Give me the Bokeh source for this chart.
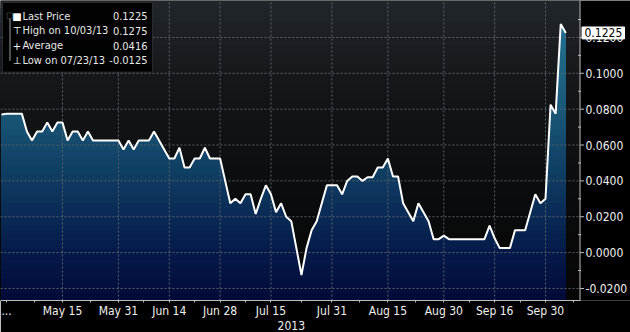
import numpy as np
import pandas as pd
from bokeh.plotting import figure
from bokeh.models import Range1d, FixedTicker, Label, BoxAnnotation, LinearAxis
from bokeh.core.properties import value
from bokeh.embed import file_html
from bokeh.resources import INLINE

# ---------------- data ----------------
holidays = ["2013-05-27", "2013-07-04", "2013-09-02"]
dates = [d for d in pd.bdate_range("2013-04-29", "2013-10-04") if d.strftime("%Y-%m-%d") not in holidays]

values = [
    0.0770, 0.0775, 0.0775, 0.0775, 0.0775, 0.0675, 0.0625, 0.0675, 0.0675, 0.0725,
    0.0675, 0.0725, 0.0725, 0.0625, 0.0675, 0.0675, 0.0625, 0.0675, 0.0625, 0.0625,
    0.0625, 0.0625, 0.0625, 0.0625, 0.0575, 0.0625, 0.0575, 0.0625, 0.0625, 0.0625,
    0.0675, 0.0625, 0.0575, 0.0525, 0.0525, 0.0585, 0.0475, 0.0475, 0.0525, 0.0525,
    0.0585, 0.0525, 0.0525, 0.0525, 0.0400, 0.0275, 0.0300, 0.0275, 0.0325, 0.0325,
    0.0215, 0.0300, 0.0375, 0.0325, 0.0225, 0.0275, 0.0200, 0.0175, 0.0025, -0.0125,
    0.0025, 0.0125, 0.0175, 0.0275, 0.0375, 0.0375, 0.0375, 0.0325, 0.0400, 0.0425,
    0.0425, 0.0400, 0.0420, 0.0420, 0.0475, 0.0475, 0.0525, 0.0425, 0.0425, 0.0275,
    0.0225, 0.0175, 0.0275, 0.0225, 0.0175, 0.0075, 0.0075, 0.0095, 0.0075, 0.0075,
    0.0075, 0.0075, 0.0075, 0.0075, 0.0075, 0.0075, 0.0150, 0.0080, 0.0025, 0.0025,
    0.0025, 0.0125, 0.0125, 0.0125, 0.0225, 0.0325, 0.0275, 0.0300, 0.0825, 0.0775,
    0.1275, 0.1225,
]
assert len(values) == len(dates)

tick_dates = ["2013-05-15", "2013-05-31", "2013-06-14", "2013-06-28", "2013-07-15",
              "2013-07-31", "2013-08-15", "2013-08-30", "2013-09-16", "2013-09-30"]
tick_labels = ["May 15", "May 31", "Jun 14", "Jun 28", "Jul 15",
               "Jul 31", "Aug 15", "Aug 30", "Sep 16", "Sep 30"]
y_ticks = [-0.02, 0.0, 0.02, 0.04, 0.06, 0.08, 0.10, 0.12]
year_label = "2013"
year_pos = 57          # business-day index under which the year is written

# ---------------- layout ----------------
W, H = 630, 332
FH = 302            # frame height
PW = 579            # pixel x of the price-axis line (plot area right edge)
FONT = "DejaVu Sans Condensed"
AX_COL = "#bdbdbd"
TXT_COL = "#f0f0f0"
GRID_COL = "#5d636a"

idx = np.arange(len(values))
vals = np.array(values)
date_str = [d.strftime("%Y-%m-%d") for d in dates]
tick_idx = [date_str.index(t) for t in tick_dates]

px_per = 5.084
x0 = -1.0 / px_per
x1 = x0 + W / px_per
y1 = 0.1406
y0 = y1 - FH / 1805.0

def X(px):
    return x0 + px * (x1 - x0) / W

def Y(py):
    return y1 - py * (y1 - y0) / FH

p = figure(width=W, height=H, output_backend="svg", toolbar_location=None,
           x_range=Range1d(x0, x1), y_range=Range1d(y0, y1),
           y_axis_location=None,
           min_border_left=0, min_border_top=0, min_border_right=0,
           min_border_bottom=H - FH,
           background_fill_color="#000000", border_fill_color="#000000",
           outline_line_color=None)
p.grid.visible = False

def hex2rgb(h):
    h = h.lstrip("#")
    return np.array([int(h[i:i + 2], 16) for i in (0, 2, 4)], dtype=float)

def grad(stops, v):
    ys = [s[0] for s in stops]
    cs = [hex2rgb(s[1]) for s in stops]
    v = min(max(v, ys[0]), ys[-1])
    for k in range(len(ys) - 1):
        if ys[k] <= v <= ys[k + 1]:
            t = (v - ys[k]) / (ys[k + 1] - ys[k]) if ys[k + 1] > ys[k] else 0
            c = cs[k] + t * (cs[k + 1] - cs[k])
            return "#%02x%02x%02x" % tuple(int(round(a)) for a in c)
    return stops[-1][1]

bg_stops = [(y0, "#060606"), (0.03, "#0a0b0c"), (0.09, "#131618"), (y1, "#21262b")]
fill_stops = [(y0, "#020a38"), (0.0, "#051a49"), (0.04, "#0e3a60"), (0.08, "#1a5877"), (y1, "#247798")]

NB = 40
edges = np.linspace(y0, y1, NB + 1)
xr = X(PW)

# plot-area background gradient
for k in range(NB - 1, -1, -1):
    hi = edges[k + 1]
    col = grad(bg_stops, (edges[k] + hi) / 2)
    p.quad(left=x0 - 1, right=xr, bottom=y0 - 0.01, top=hi,
           fill_color=col, line_color=None)

# area under the price line
for k in range(NB - 1, -1, -1):
    hi = edges[k + 1]
    col = grad(fill_stops, (edges[k] + hi) / 2)
    p.varea(x=idx, y1=y0 - 0.01, y2=np.minimum(vals, hi), fill_color=col)

# dotted grid
p.segment(x0=[x0] * len(y_ticks), y0=y_ticks, x1=[xr] * len(y_ticks), y1=y_ticks,
          line_color=GRID_COL, line_dash="2 2", line_width=1)
p.segment(x0=tick_idx, y0=[y0] * len(tick_idx), x1=tick_idx, y1=[y1] * len(tick_idx),
          line_color=GRID_COL, line_dash="2 2", line_width=1)

p.line(idx, vals, line_color="white", line_width=2)

# ---- price axis on the right (drawn with glyphs so the price tag can sit on it)
xa = X(PW + 0.5)
p.segment(x0=[xa], y0=[y0], x1=[xa], y1=[y1], line_color=AX_COL, line_width=1)
p.segment(x0=[xa] * len(y_ticks), y0=y_ticks, x1=[X(PW + 4.5)] * len(y_ticks), y1=y_ticks,
          line_color=AX_COL, line_width=1)
ym = [t + 0.01 for t in y_ticks]
p.segment(x0=[X(PW - 1.5)] * len(ym), y0=ym, x1=[X(PW + 1.5)] * len(ym), y1=ym,
          line_color=AX_COL, line_width=1)
p.text(x=[X(PW + 6)] * len(y_ticks), y=y_ticks, text=["%.4f" % t for t in y_ticks],
       text_align="left", text_baseline="middle", text_color=TXT_COL,
       text_font=value(FONT), text_font_size="12px")

last = vals[-1]
hh = 6.0 * (y1 - y0) / FH
p.quad(left=[X(PW + 2.5)], right=[X(624)], bottom=[last - hh], top=[last + hh],
       fill_color="#ffffff", line_color="#ffffff")
p.text(x=[X(PW + 5)], y=[last], text=["%.4f" % last], text_align="left",
       text_baseline="middle", text_color="#000000", text_font=value(FONT),
       text_font_size="12px")

# ---- date axis
xminor = [(a + b) / 2 for a, b in zip([1] + tick_idx[:-1], tick_idx)] + [tick_idx[-1] + 5.5]
p.xaxis.ticker = FixedTicker(ticks=[1] + tick_idx, minor_ticks=xminor)
ov = {1: "..."}
for i, l in zip(tick_idx, tick_labels):
    ov[i] = l
p.xaxis.major_label_overrides = ov
p.xaxis.bounds = (x0, X(PW + 0.5))
p.xaxis.major_label_standoff = 1
p.xaxis.major_tick_in = 0
p.xaxis.major_tick_out = 2
p.xaxis.minor_tick_in = 0
p.xaxis.minor_tick_out = 2
p.xaxis.axis_line_color = AX_COL
p.xaxis.major_tick_line_color = AX_COL
p.xaxis.minor_tick_line_color = AX_COL
p.xaxis.major_label_text_color = TXT_COL
p.xaxis.major_label_text_font_size = "12px"
p.xaxis.major_label_text_font = FONT

# year line under the dates
year_axis = LinearAxis(ticker=FixedTicker(ticks=[year_pos]),
                       major_label_overrides={year_pos: year_label},
                       axis_line_color=None, major_tick_line_color=None,
                       minor_tick_line_color=None, major_tick_in=0, major_tick_out=0,
                       minor_tick_in=0, minor_tick_out=0, major_label_standoff=0,
                       major_label_text_color=TXT_COL, major_label_text_font_size="12px",
                       major_label_text_font=FONT)
p.add_layout(year_axis, "below")

# ---- legend box
hi_i = int(np.argmax(vals))
lo_i = int(np.argmin(vals))
avg = float(np.mean(vals))

p.add_layout(BoxAnnotation(left=X(2), right=X(152), top=Y(2), bottom=Y(72),
                           fill_color="#000000", fill_alpha=0.93,
                           line_color="#6a6a6a", line_width=1, level="annotation"))
p.add_layout(BoxAnnotation(left=X(9), right=X(10), top=Y(17), bottom=Y(61),
                           fill_color="#9a9a9a", fill_alpha=1, line_color=None))
p.add_layout(BoxAnnotation(left=X(6.5), right=X(12), top=Y(12.5), bottom=Y(18),
                           fill_color="#000000", fill_alpha=1, line_color="#9a9a9a"))

def lab(px, py, text, align="left", color="#e8e8e8", size="11px", font=FONT):
    p.add_layout(Label(x=X(px), y=Y(py), text=text, text_align=align,
                       text_baseline="middle", text_color=color,
                       text_font_size=size, text_font=font))

rows = [
    ("\u25a0", "Last Price", last),
    ("\u22a4", "High on " + dates[hi_i].strftime("%m/%d/%y"), vals[hi_i]),
    ("+", "Average", avg),
    ("\u22a5", "Low on " + dates[lo_i].strftime("%m/%d/%y"), vals[lo_i]),
]
for r, (icon, name, v) in enumerate(rows):
    py = 16 + r * 14.7
    lab(16.5, py, icon, align="center", size="10px", font="DejaVu Sans", color="#ffffff")
    lab(22, py, name)
    lab(147, py, "%.4f" % v, align="right")

open("out.html", "w").write(file_html(p, INLINE))
